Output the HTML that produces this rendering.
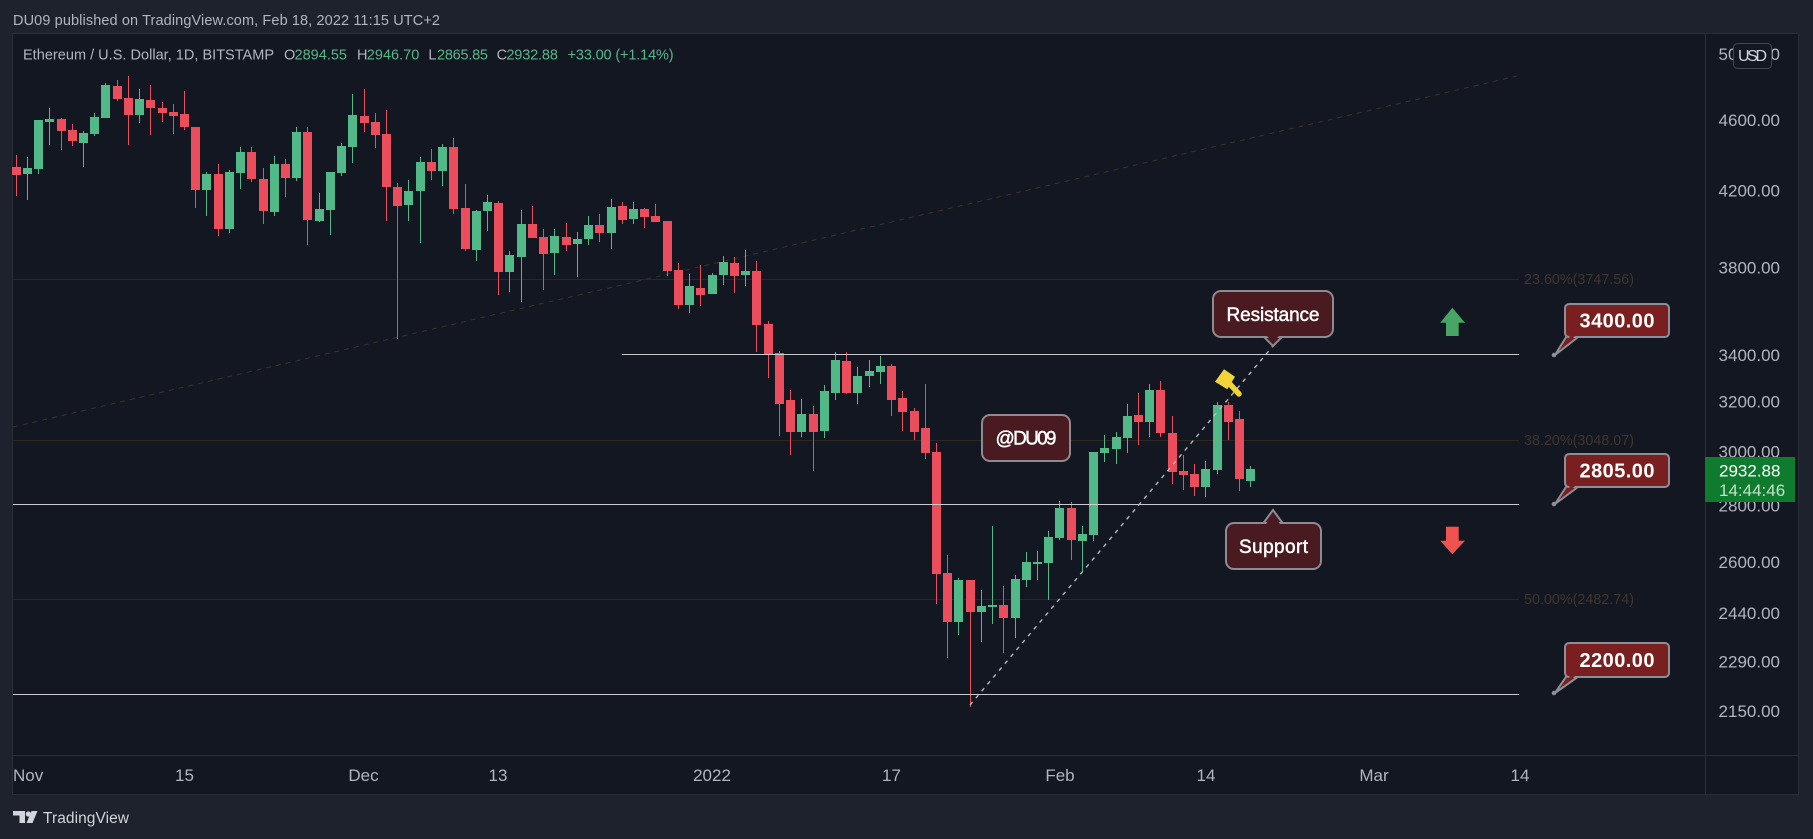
<!DOCTYPE html>
<html><head><meta charset="utf-8"><style>
html,body{margin:0;padding:0;background:#1e222d;}
svg{display:block;font-family:"Liberation Sans",sans-serif;}
</style></head><body>
<svg width="1813" height="839" viewBox="0 0 1813 839" xmlns="http://www.w3.org/2000/svg">
<rect x="0" y="0" width="1813" height="839" fill="#1e222d"/>
<text x="13" y="25" font-size="14.5" fill="#b2b5be" textLength="427">DU09 published on TradingView.com, Feb 18, 2022 11:15 UTC+2</text>
<rect x="12.5" y="33.5" width="1786" height="761" fill="#131722" stroke="#2a2e39" stroke-width="1"/>
<line x1="1705.5" y1="34" x2="1705.5" y2="794" stroke="#2a2e39"/>
<line x1="13" y1="755.5" x2="1798" y2="755.5" stroke="#2a2e39"/>

<!-- fib levels -->
<g stroke="#2c2722" stroke-width="1">
<line x1="13" y1="279.5" x2="1519" y2="279.5"/>
<line x1="13" y1="440.5" x2="1519" y2="440.5"/>
<line x1="13" y1="599.5" x2="1519" y2="599.5"/>
</g>
<line x1="13" y1="427" x2="1517" y2="76" stroke="#3b3229" stroke-width="1" stroke-dasharray="5 5"/>
<g font-size="14.3" fill="#40362c">
<text x="1524" y="284" textLength="110">23.60%(3747.56)</text>
<text x="1524" y="445" textLength="110">38.20%(3048.07)</text>
<text x="1524" y="604" textLength="110">50.00%(2482.74)</text>
</g>

<!-- red candles -->
<g fill="#eb4d5c" shape-rendering="crispEdges">
<rect x="16" y="155" width="1" height="41"/><rect x="12" y="167" width="9" height="8"/>
<rect x="61" y="118" width="1" height="32"/><rect x="57" y="119" width="9" height="12"/>
<rect x="72" y="124" width="1" height="22"/><rect x="68" y="130" width="9" height="11"/>
<rect x="117" y="80" width="1" height="21"/><rect x="113" y="86" width="9" height="13"/>
<rect x="128" y="76" width="1" height="69"/><rect x="124" y="98" width="9" height="17"/>
<rect x="150" y="85" width="1" height="50"/><rect x="146" y="100" width="9" height="8"/>
<rect x="162" y="102" width="1" height="20"/><rect x="158" y="108" width="9" height="5"/>
<rect x="173" y="104" width="1" height="30"/><rect x="169" y="112" width="9" height="4"/>
<rect x="184" y="91" width="1" height="39"/><rect x="180" y="114" width="9" height="13"/>
<rect x="195" y="127" width="1" height="81"/><rect x="191" y="127" width="9" height="63"/>
<rect x="218" y="164" width="1" height="72"/><rect x="214" y="174" width="9" height="55"/>
<rect x="251" y="147" width="1" height="35"/><rect x="247" y="152" width="9" height="27"/>
<rect x="263" y="168" width="1" height="56"/><rect x="259" y="179" width="9" height="32"/>
<rect x="285" y="159" width="1" height="38"/><rect x="281" y="164" width="9" height="14"/>
<rect x="307" y="127" width="1" height="118"/><rect x="303" y="132" width="9" height="88"/>
<rect x="364" y="89" width="1" height="43"/><rect x="360" y="116" width="9" height="7"/>
<rect x="375" y="113" width="1" height="35"/><rect x="371" y="122" width="9" height="13"/>
<rect x="386" y="110" width="1" height="111"/><rect x="382" y="134" width="9" height="53"/>
<rect x="397" y="183" width="1" height="156"/><rect x="393" y="187" width="9" height="19"/>
<rect x="431" y="149" width="1" height="31"/><rect x="427" y="162" width="9" height="9"/>
<rect x="453" y="138" width="1" height="76"/><rect x="449" y="147" width="9" height="62"/>
<rect x="465" y="184" width="1" height="67"/><rect x="461" y="208" width="9" height="41"/>
<rect x="498" y="201" width="1" height="94"/><rect x="494" y="203" width="9" height="69"/>
<rect x="532" y="206" width="1" height="32"/><rect x="528" y="224" width="9" height="14"/>
<rect x="543" y="229" width="1" height="61"/><rect x="539" y="237" width="9" height="17"/>
<rect x="566" y="223" width="1" height="28"/><rect x="562" y="237" width="9" height="8"/>
<rect x="599" y="214" width="1" height="28"/><rect x="595" y="225" width="9" height="8"/>
<rect x="622" y="202" width="1" height="22"/><rect x="618" y="206" width="9" height="14"/>
<rect x="644" y="208" width="1" height="20"/><rect x="640" y="209" width="9" height="8"/>
<rect x="655" y="204" width="1" height="18"/><rect x="651" y="216" width="9" height="6"/>
<rect x="667" y="221" width="1" height="55"/><rect x="663" y="221" width="9" height="50"/>
<rect x="678" y="263" width="1" height="46"/><rect x="674" y="270" width="9" height="35"/>
<rect x="700" y="265" width="1" height="41"/><rect x="696" y="288" width="9" height="7"/>
<rect x="734" y="257" width="1" height="36"/><rect x="730" y="263" width="9" height="13"/>
<rect x="756" y="261" width="1" height="91"/><rect x="752" y="271" width="9" height="54"/>
<rect x="768" y="321" width="1" height="57"/><rect x="764" y="324" width="9" height="30"/>
<rect x="779" y="351" width="1" height="85"/><rect x="775" y="353" width="9" height="51"/>
<rect x="790" y="390" width="1" height="65"/><rect x="786" y="400" width="9" height="32"/>
<rect x="813" y="406" width="1" height="65"/><rect x="809" y="414" width="9" height="18"/>
<rect x="846" y="352" width="1" height="42"/><rect x="842" y="361" width="9" height="32"/>
<rect x="891" y="364" width="1" height="52"/><rect x="887" y="366" width="9" height="34"/>
<rect x="902" y="391" width="1" height="40"/><rect x="898" y="398" width="9" height="14"/>
<rect x="914" y="408" width="1" height="32"/><rect x="910" y="411" width="9" height="21"/>
<rect x="925" y="384" width="1" height="75"/><rect x="921" y="428" width="9" height="25"/>
<rect x="936" y="443" width="1" height="161"/><rect x="932" y="452" width="9" height="122"/>
<rect x="947" y="555" width="1" height="103"/><rect x="943" y="573" width="9" height="49"/>
<rect x="970" y="580" width="1" height="127"/><rect x="966" y="580" width="9" height="32"/>
<rect x="1003" y="586" width="1" height="67"/><rect x="999" y="605" width="9" height="13"/>
<rect x="1071" y="502" width="1" height="58"/><rect x="1067" y="508" width="9" height="32"/>
<rect x="1138" y="393" width="1" height="52"/><rect x="1134" y="415" width="9" height="7"/>
<rect x="1160" y="381" width="1" height="56"/><rect x="1156" y="390" width="9" height="43"/>
<rect x="1172" y="416" width="1" height="68"/><rect x="1168" y="433" width="9" height="39"/>
<rect x="1183" y="455" width="1" height="35"/><rect x="1179" y="471" width="9" height="4"/>
<rect x="1194" y="464" width="1" height="32"/><rect x="1190" y="474" width="9" height="13"/>
<rect x="1228" y="402" width="1" height="38"/><rect x="1224" y="405" width="9" height="17"/>
<rect x="1239" y="411" width="1" height="80"/><rect x="1235" y="419" width="9" height="60"/>
</g>
<!-- green candles -->
<g fill="#51b887" shape-rendering="crispEdges">
<rect x="27" y="157" width="1" height="43"/><rect x="23" y="168" width="9" height="6"/>
<rect x="38" y="120" width="1" height="54"/><rect x="34" y="120" width="9" height="49"/>
<rect x="49" y="108" width="1" height="37"/><rect x="45" y="119" width="9" height="3"/>
<rect x="83" y="131" width="1" height="36"/><rect x="79" y="133" width="9" height="10"/>
<rect x="94" y="113" width="1" height="23"/><rect x="90" y="117" width="9" height="17"/>
<rect x="105" y="83" width="1" height="35"/><rect x="101" y="85" width="9" height="33"/>
<rect x="139" y="89" width="1" height="34"/><rect x="135" y="99" width="9" height="16"/>
<rect x="206" y="172" width="1" height="44"/><rect x="202" y="174" width="9" height="16"/>
<rect x="229" y="170" width="1" height="63"/><rect x="225" y="172" width="9" height="57"/>
<rect x="240" y="147" width="1" height="42"/><rect x="236" y="152" width="9" height="21"/>
<rect x="274" y="156" width="1" height="60"/><rect x="270" y="164" width="9" height="48"/>
<rect x="296" y="127" width="1" height="54"/><rect x="292" y="132" width="9" height="46"/>
<rect x="319" y="193" width="1" height="29"/><rect x="315" y="209" width="9" height="12"/>
<rect x="330" y="172" width="1" height="63"/><rect x="326" y="172" width="9" height="38"/>
<rect x="341" y="143" width="1" height="33"/><rect x="337" y="146" width="9" height="27"/>
<rect x="352" y="94" width="1" height="69"/><rect x="348" y="115" width="9" height="32"/>
<rect x="408" y="180" width="1" height="41"/><rect x="404" y="191" width="9" height="14"/>
<rect x="420" y="157" width="1" height="86"/><rect x="416" y="162" width="9" height="29"/>
<rect x="442" y="144" width="1" height="42"/><rect x="438" y="147" width="9" height="24"/>
<rect x="476" y="210" width="1" height="51"/><rect x="472" y="211" width="9" height="39"/>
<rect x="487" y="195" width="1" height="36"/><rect x="483" y="202" width="9" height="9"/>
<rect x="509" y="251" width="1" height="41"/><rect x="505" y="255" width="9" height="17"/>
<rect x="521" y="210" width="1" height="92"/><rect x="517" y="224" width="9" height="33"/>
<rect x="554" y="229" width="1" height="46"/><rect x="550" y="236" width="9" height="17"/>
<rect x="577" y="232" width="1" height="45"/><rect x="573" y="239" width="9" height="5"/>
<rect x="588" y="216" width="1" height="29"/><rect x="584" y="225" width="9" height="14"/>
<rect x="611" y="199" width="1" height="50"/><rect x="607" y="207" width="9" height="26"/>
<rect x="633" y="202" width="1" height="22"/><rect x="629" y="209" width="9" height="10"/>
<rect x="689" y="274" width="1" height="39"/><rect x="685" y="286" width="9" height="19"/>
<rect x="712" y="273" width="1" height="21"/><rect x="708" y="275" width="9" height="19"/>
<rect x="723" y="256" width="1" height="29"/><rect x="719" y="262" width="9" height="13"/>
<rect x="745" y="250" width="1" height="36"/><rect x="741" y="271" width="9" height="4"/>
<rect x="801" y="399" width="1" height="38"/><rect x="797" y="414" width="9" height="18"/>
<rect x="824" y="385" width="1" height="53"/><rect x="820" y="391" width="9" height="40"/>
<rect x="835" y="352" width="1" height="48"/><rect x="831" y="360" width="9" height="33"/>
<rect x="857" y="367" width="1" height="37"/><rect x="853" y="376" width="9" height="17"/>
<rect x="869" y="360" width="1" height="27"/><rect x="865" y="371" width="9" height="5"/>
<rect x="880" y="356" width="1" height="28"/><rect x="876" y="366" width="9" height="6"/>
<rect x="958" y="578" width="1" height="57"/><rect x="954" y="580" width="9" height="42"/>
<rect x="981" y="590" width="1" height="52"/><rect x="977" y="606" width="9" height="6"/>
<rect x="992" y="526" width="1" height="98"/><rect x="988" y="605" width="9" height="2"/>
<rect x="1015" y="575" width="1" height="63"/><rect x="1011" y="579" width="9" height="39"/>
<rect x="1026" y="552" width="1" height="35"/><rect x="1022" y="562" width="9" height="18"/>
<rect x="1037" y="551" width="1" height="29"/><rect x="1033" y="562" width="9" height="2"/>
<rect x="1048" y="531" width="1" height="69"/><rect x="1044" y="537" width="9" height="26"/>
<rect x="1059" y="501" width="1" height="39"/><rect x="1055" y="508" width="9" height="30"/>
<rect x="1082" y="526" width="1" height="46"/><rect x="1078" y="534" width="9" height="7"/>
<rect x="1093" y="452" width="1" height="89"/><rect x="1089" y="452" width="9" height="83"/>
<rect x="1104" y="435" width="1" height="27"/><rect x="1100" y="448" width="9" height="5"/>
<rect x="1116" y="432" width="1" height="32"/><rect x="1112" y="437" width="9" height="12"/>
<rect x="1127" y="404" width="1" height="49"/><rect x="1123" y="416" width="9" height="22"/>
<rect x="1149" y="384" width="1" height="53"/><rect x="1145" y="390" width="9" height="32"/>
<rect x="1205" y="461" width="1" height="36"/><rect x="1201" y="469" width="9" height="18"/>
<rect x="1217" y="402" width="1" height="72"/><rect x="1213" y="405" width="9" height="65"/>
<rect x="1250" y="466" width="1" height="21"/><rect x="1246" y="469" width="9" height="12"/>
</g>

<!-- horizontal level lines -->
<g stroke="#c9cbd1" stroke-width="1" shape-rendering="crispEdges">
<line x1="622" y1="354.5" x2="1519" y2="354.5"/>
<line x1="13" y1="504.5" x2="1519" y2="504.5"/>
<line x1="13" y1="694.5" x2="1519" y2="694.5"/>
</g>
<!-- dashed trendline -->
<line x1="970" y1="705" x2="1273" y2="346" stroke="#b4b6bd" stroke-width="1.4" stroke-dasharray="4 5"/>

<!-- hammer icon -->
<g fill="#f0d438">
<polygon points="1224,369.3 1235,376.7 1227.3,389.3 1215,381.7"/>
<line x1="1229" y1="383" x2="1239" y2="394" stroke="#f0d438" stroke-width="5.5" stroke-linecap="round"/>
</g>

<!-- arrows -->
<polygon points="1452.3,307.7 1465,322.7 1458.7,322.7 1458.7,336 1446,336 1446,322.7 1440.3,322.7" fill="#47a565"/>
<polygon points="1446,526.7 1458.7,526.7 1458.7,540.7 1465,540.7 1452.3,554.3 1440.3,540.7 1446,540.7" fill="#ef5350"/>

<!-- maroon callouts -->
<g stroke="#8e8a8f" stroke-width="2" fill="#4a1a21">
<polygon points="1262,335 1284,335 1273,346"/>
<rect x="1213" y="291" width="120" height="46" rx="8"/>
<polygon points="1262,525 1284,525 1273,510"/>
<rect x="1226" y="523" width="95" height="46" rx="8"/>
<rect x="982" y="415" width="88" height="46" rx="8"/>
</g>
<g fill="#4a1a21">
<polygon points="1264,333 1282,333 1273,342"/>
<polygon points="1264,527 1282,527 1273,514"/>
</g>
<g fill="#ffffff" stroke="#ffffff" stroke-width="0.45" font-size="19" text-anchor="middle">
<text x="1273" y="321" textLength="93">Resistance</text>
<text x="1273.5" y="553" textLength="69">Support</text>
<text x="1026" y="444.5" textLength="61">@DU09</text>
</g>

<!-- price callouts -->
<g stroke="#8c8f98" stroke-width="2" fill="#7a1f1f">
<polygon points="1568,334 1582,334 1555,355"/>
<rect x="1565" y="304" width="104" height="33" rx="4"/>
<polygon points="1568,484 1582,484 1555,504"/>
<rect x="1565" y="454" width="104" height="33" rx="4"/>
<polygon points="1568,674 1582,674 1555,693"/>
<rect x="1565" y="643" width="104" height="34" rx="4"/>
</g>
<g fill="#7a1f1f">
<polygon points="1570,332 1580,332 1569,341"/>
<polygon points="1570,482 1580,482 1569,491"/>
<polygon points="1570,672 1580,672 1569,681"/>
</g>
<g fill="#8c8f98">
<circle cx="1554" cy="355" r="2.3"/>
<circle cx="1554" cy="504" r="2.3"/>
<circle cx="1554" cy="693" r="2.3"/>
</g>
<g fill="#ffffff" font-size="20" font-weight="bold" text-anchor="middle">
<text x="1617" y="327.5" textLength="75">3400.00</text>
<text x="1617" y="477.5" textLength="75">2805.00</text>
<text x="1617" y="667" textLength="75">2200.00</text>
</g>

<!-- legend -->
<g font-size="14.5">
<text x="23" y="59.5" fill="#b2b5be" textLength="251">Ethereum / U.S. Dollar, 1D, BITSTAMP</text>
<text x="284" y="59.5" fill="#b2b5be">O</text><text x="294.5" y="59.5" fill="#53b987" textLength="52.5">2894.55</text>
<text x="357" y="59.5" fill="#b2b5be">H</text><text x="366.8" y="59.5" fill="#53b987" textLength="52.5">2946.70</text>
<text x="428.4" y="59.5" fill="#b2b5be">L</text><text x="437" y="59.5" fill="#53b987" textLength="51">2865.85</text>
<text x="496.6" y="59.5" fill="#b2b5be">C</text><text x="506.4" y="59.5" fill="#53b987" textLength="51.5">2932.88</text>
<text x="567.6" y="59.5" fill="#53b987" textLength="106">+33.00 (+1.14%)</text>
</g>

<!-- price axis -->
<g font-size="17" fill="#b2b5be" text-anchor="end">
<text x="1780" y="60">5000.00</text>
<text x="1780" y="126">4600.00</text>
<text x="1780" y="196.7">4200.00</text>
<text x="1780" y="273.7">3800.00</text>
<text x="1780" y="361">3400.00</text>
<text x="1780" y="407.7">3200.00</text>
<text x="1780" y="457.7">3000.00</text>
<text x="1780" y="511.7">2800.00</text>
<text x="1780" y="568">2600.00</text>
<text x="1780" y="619">2440.00</text>
<text x="1780" y="667.7">2290.00</text>
<text x="1780" y="717">2150.00</text>
</g>
<rect x="1733.5" y="43.5" width="38" height="25" rx="4" fill="#131722" stroke="#434651"/>
<text x="1752.5" y="61" font-size="16" fill="#d1d4dc" text-anchor="middle" textLength="29">USD</text>

<rect x="1705" y="457" width="90" height="45" fill="#0f7b2f"/>
<text x="1719" y="476.5" font-size="17" fill="#ffffff">2932.88</text>
<text x="1719" y="496" font-size="17" fill="#c3e3c9">14:44:46</text>

<!-- time axis -->
<g font-size="17" fill="#b2b5be" text-anchor="middle">
<text x="13" y="781" text-anchor="start">Nov</text>
<text x="184.5" y="781">15</text>
<text x="363.5" y="781">Dec</text>
<text x="498" y="781">13</text>
<text x="712" y="781">2022</text>
<text x="891.5" y="781">17</text>
<text x="1060" y="781">Feb</text>
<text x="1206" y="781">14</text>
<text x="1374" y="781">Mar</text>
<text x="1520" y="781">14</text>
</g>

<!-- footer -->
<g fill="#d1d4dc">
<path d="M13 811 H25 V823 H19.5 V815.5 H13 Z"/>
<circle cx="28.3" cy="814" r="2.6"/>
<polygon points="31.5,811 37.5,811 32.5,823 26.5,823"/>
<text x="43" y="823" font-size="15.5" textLength="86">TradingView</text>
</g>
</svg>
</body></html>
